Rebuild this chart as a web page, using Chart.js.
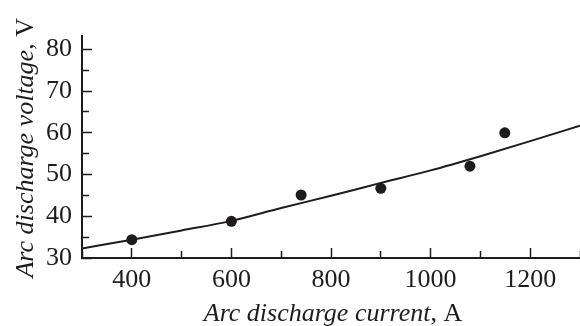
<!DOCTYPE html>
<html>
<head>
<meta charset="utf-8">
<script src="https://cdn.jsdelivr.net/npm/chart.js@4"></script>
<style>
html,body{margin:0;padding:0;background:#fff;}
#c{display:block;}
</style>
</head>
<body>
<canvas id="c" width="580" height="326"></canvas>
<script>
// Measured data points
const pointCurrents = [400, 600, 740, 900, 1079, 1149];
const pointVoltages = [34.4, 38.8, 45.1, 46.7, 52.0, 60.0];
// Fitted curve
const fitCurrents = [300, 400, 500, 600, 700, 800, 900, 1000, 1100, 1200, 1300];
const fitVoltages = [32.3, 34.4, 36.6, 38.9, 42.0, 44.9, 48.0, 51.0, 54.4, 58.0, 61.7];
// Tick labels / positions
const xMajorTicks = [400, 600, 800, 1000, 1200];
const xMinorTicks = [300, 500, 700, 900, 1100, 1300];
const yMajorTicks = [30, 40, 50, 60, 70, 80];
const yMinorTicks = [35, 45, 55, 65, 75];
const xMin = 300, xMax = 1300;
const yMin = 30, yMax = 83.3;
const xTitleItalic = 'Arc discharge current', xTitleRoman = ', A';
const yTitleItalic = 'Arc discharge voltage', yTitleRoman = ', V';

const INK = '#1e1c1d';
const FONT = '"Liberation Serif", "Times New Roman", Times, serif';
const FS = 26;

const toXY = (xs, ys) => xs.map((x, i) => ({x: x, y: ys[i]}));
const setTicks = vals => (s => { s.ticks = vals.map(v => ({value: v})); });

const titlePlugin = {
  id: 'axisTitles',
  afterDraw(chart) {
    const ctx = chart.ctx, a = chart.chartArea;
    ctx.save();
    ctx.fillStyle = INK;
    ctx.textBaseline = 'alphabetic';
    const fi = 'italic ' + FS + 'px ' + FONT, fr = FS + 'px ' + FONT;
    ctx.font = fi; const w1 = ctx.measureText(xTitleItalic).width;
    ctx.font = fr; const w2 = ctx.measureText(xTitleRoman).width;
    let sx = (a.left + a.right) / 2 - (w1 + w2) / 2 + 2;
    ctx.textAlign = 'left';
    ctx.font = fi; ctx.fillText(xTitleItalic, sx, 321);
    ctx.font = fr; ctx.fillText(xTitleRoman, sx + w1, 321);
    ctx.font = fi; const h1 = ctx.measureText(yTitleItalic).width;
    ctx.font = fr; const h2 = ctx.measureText(yTitleRoman).width;
    ctx.translate(33, (a.top + a.bottom) / 2 + 1);
    ctx.rotate(-Math.PI / 2);
    let sy = -(h1 + h2) / 2;
    ctx.font = fi; ctx.fillText(yTitleItalic, sy, 0);
    ctx.font = fr; ctx.fillText(yTitleRoman, sy + h1, 0);
    ctx.restore();
  }
};

new Chart(document.getElementById('c'), {
  type: 'scatter',
  data: {
    datasets: [
      {
        data: toXY(fitCurrents, fitVoltages),
        showLine: true,
        tension: 0.4,
        cubicInterpolationMode: 'monotone',
        borderColor: INK,
        borderWidth: 2,
        pointRadius: 0,
        fill: false
      },
      {
        data: toXY(pointCurrents, pointVoltages),
        showLine: false,
        pointRadius: 5.5,
        pointBackgroundColor: INK,
        pointBorderColor: INK,
        pointBorderWidth: 0
      }
    ]
  },
  options: {
    responsive: false,
    devicePixelRatio: 1,
    animation: false,
    events: [],
    layout: {autoPadding: false, padding: {top: 29, right: 0, left: 0, bottom: 0}},
    plugins: {legend: {display: false}, tooltip: {enabled: false}, title: {display: false}},
    scales: {
      x: {
        type: 'linear', position: 'bottom', min: xMin, max: xMax,
        afterBuildTicks: setTicks(xMajorTicks),
        afterFit: s => { s.height = 68; s.paddingLeft = 0; s.paddingRight = 0; },
        ticks: {padding: 17, color: INK, maxRotation: 0, autoSkip: false,
                callback: v => String(v),
                font: {family: FONT, size: FS}},
        grid: {drawOnChartArea: false, drawTicks: true, tickLength: -10, tickWidth: 1.5, tickColor: INK},
        border: {display: true, color: INK, width: 2}
      },
      y: {
        type: 'linear', position: 'left', min: yMin, max: yMax,
        afterBuildTicks: setTicks(yMajorTicks),
        afterFit: s => { s.width = 82; },
        ticks: {padding: 20, color: INK, autoSkip: false,
                callback: v => String(v),
                font: {family: FONT, size: FS}},
        grid: {drawOnChartArea: false, drawTicks: true, tickLength: -10, tickWidth: 1.5, tickColor: INK},
        border: {display: true, color: INK, width: 2}
      },
      xMinor: {
        type: 'linear', axis: 'x', position: {y: yMin}, min: xMin, max: xMax,
        afterBuildTicks: setTicks(xMinorTicks),
        afterFit: s => { s.height = 0; s.paddingLeft = 0; s.paddingRight = 0; },
        ticks: {display: false},
        grid: {drawOnChartArea: false, drawTicks: true, tickLength: -7, tickWidth: 1.5, tickColor: INK},
        border: {display: false}
      },
      yMinor: {
        type: 'linear', axis: 'y', position: {x: xMin}, min: yMin, max: yMax,
        afterBuildTicks: setTicks(yMinorTicks),
        afterFit: s => { s.width = 0; s.paddingTop = 0; s.paddingBottom = 0; },
        ticks: {display: false},
        grid: {drawOnChartArea: false, drawTicks: true, tickLength: -7, tickWidth: 1.5, tickColor: INK},
        border: {display: false}
      }
    }
  },
  plugins: [titlePlugin]
});
</script>
</body>
</html>
